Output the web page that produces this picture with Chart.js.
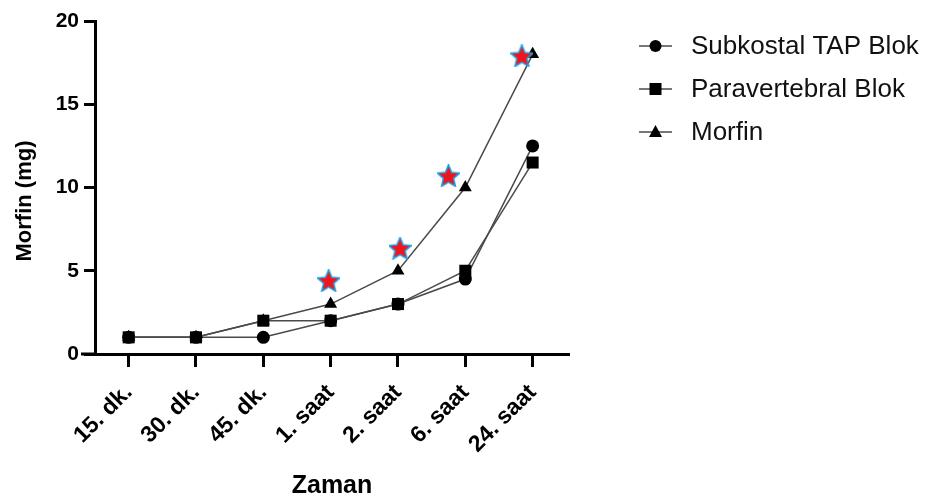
<!DOCTYPE html>
<html>
<head>
<meta charset="utf-8">
<script src="https://cdn.jsdelivr.net/npm/chart.js@4/dist/chart.umd.min.js"></script>
<style>
html,body{margin:0;padding:0;background:#fff;}
#wrap{width:929px;height:503px;position:relative;}
</style>
</head>
<body>
<div id="wrap"><canvas id="c" width="929" height="503"></canvas></div>
<script>
// ---- data ----
const categories = ["15. dk.", "30. dk.", "45. dk.", "1. saat", "2. saat", "6. saat", "24. saat"];
const subkostal = [1, 1, 1, 2, 3, 4.5, 12.5];
const paravertebral = [1, 1, 2, 2, 3, 5, 11.5];
const morfin = [1, 1, 2, 3, 5, 10, 18];
const starX = [2.97, 4.03, 4.75, 5.84];
const starY = [4.4, 6.35, 10.7, 17.9];
const yTicks = [0, 5, 10, 15, 20];
const seriesNames = ["Subkostal TAP Blok", "Paravertebral Blok", "Morfin"];
const xTitle = "Zaman";
const yTitle = "Morfin (mg)";

const FONT = "'Liberation Sans', Arial, sans-serif";

function toPts(arr){ return arr.map((v,i)=>({x:i,y:v})); }

// star image
function makeStar(size){
  const c = document.createElement('canvas');
  c.width = size; c.height = size;
  const g = c.getContext('2d');
  const cx = size/2, cy = size/2 + 0.9, R = size/2 - 1.5, r = R*0.45;
  g.beginPath();
  for(let k=0;k<10;k++){
    const ang = -Math.PI/2 + k*Math.PI/5;
    const rad = k%2===0 ? R : r;
    const px = cx + rad*Math.cos(ang), py = cy + rad*Math.sin(ang);
    if(k===0) g.moveTo(px,py); else g.lineTo(px,py);
  }
  g.closePath();
  g.lineWidth = 3;
  g.strokeStyle = '#1fa3e3';
  g.lineJoin = 'miter';
  g.stroke();
  g.fillStyle = '#f0141e';
  g.fill();
  return c;
}
const starImg = makeStar(23);

const LINE_COLOR = '#4a4a4a';

const legendPlugin = {
  id: 'customLegend',
  afterDraw(chart){
    const ctx = chart.ctx;
    const rows = [46, 89, 132];
    const styles = ['circle','rect','triangle'];
    ctx.save();
    // x-axis extension to the left of y axis
    const ca = chart.chartArea;
    ctx.strokeStyle = '#000';
    ctx.lineWidth = 3;
    ctx.beginPath();
    ctx.moveTo(ca.left - 14, ca.bottom);
    ctx.lineTo(ca.left, ca.bottom);
    ctx.stroke();
    // y-axis title
    ctx.save();
    ctx.translate(25, 201);
    ctx.rotate(-Math.PI/2);
    ctx.fillStyle = '#000';
    ctx.font = "bold 22px " + FONT;
    ctx.textAlign = 'center';
    ctx.textBaseline = 'middle';
    ctx.fillText(yTitle, 0, 0);
    ctx.restore();
    for(let i=0;i<3;i++){
      const y = rows[i];
      ctx.strokeStyle = LINE_COLOR;
      ctx.lineWidth = 1.5;
      ctx.beginPath();
      ctx.moveTo(639, y); ctx.lineTo(672, y);
      ctx.stroke();
      ctx.fillStyle = '#000';
      ctx.beginPath();
      if(styles[i]==='circle'){
        ctx.arc(655.5, y, 6, 0, Math.PI*2);
      } else if(styles[i]==='rect'){
        ctx.rect(649.5, y-6, 12, 12);
      } else {
        ctx.moveTo(655.5, y-7); ctx.lineTo(662, y+5); ctx.lineTo(649, y+5); ctx.closePath();
      }
      ctx.fill();
      ctx.fillStyle = '#111';
      ctx.font = "26px " + FONT;
      ctx.textBaseline = 'middle';
      ctx.textAlign = 'left';
      ctx.fillText(seriesNames[i], 691, y+1);
    }
    ctx.restore();
  }
};

const common = {
  borderColor: LINE_COLOR,
  borderWidth: 1.5,
  backgroundColor: '#000',
  pointBackgroundColor: '#000',
  pointBorderColor: '#000',
  pointBorderWidth: 0,
  tension: 0,
  fill: false
};

new Chart(document.getElementById('c'), {
  type: 'line',
  data: {
    datasets: [
      Object.assign({}, common, {label: seriesNames[0], data: toPts(subkostal), pointStyle: 'circle', pointRadius: 6.5, order: 2}),
      Object.assign({}, common, {label: seriesNames[1], data: toPts(paravertebral), pointStyle: 'rect', pointRadius: 8.5, order: 1}),
      Object.assign({}, common, {label: seriesNames[2], data: toPts(morfin), pointStyle: 'triangle', pointRadius: 7.5, order: 3}),
      {label: 'stars', data: starX.map((x,i)=>({x:x,y:starY[i]})), showLine: false, pointStyle: starImg, pointRadius: 11, order: 0}
    ]
  },
  options: {
    responsive: false,
    animation: false,
    devicePixelRatio: 1,
    layout: {padding: {left: 0, top: 21, right: 360, bottom: 0}},
    plugins: {legend: {display: false}, tooltip: {enabled: false}},
    scales: {
      x: {
        type: 'linear',
        min: -0.5, max: 6.54,
        afterBuildTicks(scale){ scale.ticks = categories.map((c,i)=>({value:i})); },
        afterFit(scale){ scale.height = 503 - 354; },
        ticks: {
          callback: (v)=>categories[v],
          autoSkip: false,
          minRotation: 45, maxRotation: 45,
          color: '#000',
          font: {family: FONT, size: 23, weight: 'bold'},
          padding: 12
        },
        grid: {drawOnChartArea: false, drawTicks: true, tickLength: 13, tickWidth: 3, tickColor: '#000'},
        border: {display: true, color: '#000', width: 3},
        title: {display: true, text: xTitle, color: '#000', font: {family: FONT, size: 25, weight: 'bold'}, padding: {top: 0, bottom: 2}}
      },
      y: {
        min: 0, max: 20,
        afterBuildTicks(scale){ scale.ticks = yTicks.map(v=>({value:v})); },
        afterFit(scale){ scale.width = 95; },
        ticks: {
          color: '#000',
          font: {family: FONT, size: 21, weight: 'bold'},
          padding: 5
        },
        grid: {drawOnChartArea: false, drawTicks: true, tickLength: 11, tickWidth: 3, tickColor: '#000'},
        border: {display: true, color: '#000', width: 3},
        title: {display: false}
      }
    }
  },
  plugins: [legendPlugin]
});
</script>
</body>
</html>
